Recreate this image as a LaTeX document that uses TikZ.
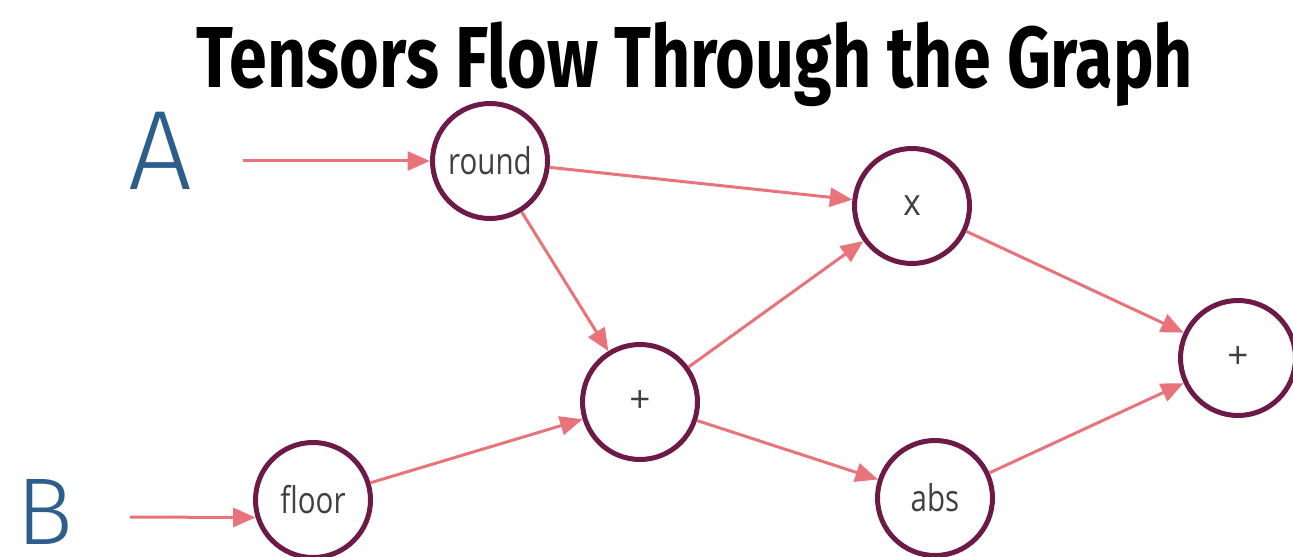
\documentclass[tikz,border=0pt]{standalone}
\usepackage{fontspec}
\usepackage{graphicx}
\setmainfont{Open Sans}
\newfontfamily\titlefont{Fira Sans}
\newfontfamily\labelfont{Open Sans}
\newfontfamily\handfont{Fira Sans Light}
\usetikzlibrary{arrows.meta}
\definecolor{ringcol}{HTML}{6E1A48}
\definecolor{flowcol}{HTML}{E8737A}
\definecolor{inkblue}{HTML}{2C5E8C}
\definecolor{textgray}{HTML}{404040}
\begin{document}
\begin{tikzpicture}[x=0.02cm,y=-0.02cm,
  opnode/.style={circle,draw=ringcol,line width=0.1cm,fill=white,
    minimum size=2.3cm,inner sep=0pt,font=\labelfont\fontsize{21}{21}\selectfont,
    text=textgray},
  flow/.style={draw=flowcol,line width=0.06cm,
    -{Triangle[length=0.45cm,width=0.38cm]}},
  inlabel/.style={text=inkblue,inner sep=0pt}]
\useasboundingbox (0,0) rectangle (1293,557);

% title
\node[inner sep=0pt,anchor=base] (title) at (695,88)
  {\resizebox{567pt}{37.4pt}{\titlefont\bfseries Tensors Flow Through the Graph}};

% operation nodes
\node[opnode] (round) at (490,161) {\scalebox{0.8}[1]{round}};
\node[opnode] (mul)   at (912,206) {\scalebox{0.9}[1]{x}};
\node[opnode] (add)   at (640,402) {+};
\node[opnode] (floor) at (313,500) {\scalebox{0.8}[1]{floor}};
\node[opnode] (abs)   at (935,498) {\scalebox{0.8}[1]{abs}};
\node[opnode] (sum)   at (1238,358) {+};

% inputs
\node[inlabel] (A) at (160,151) {\resizebox{!}{44pt}{\handfont A}};
\node[inlabel] (B) at (45,512) {\resizebox{!}{37pt}{\handfont B}};
\coordinate (astart) at (243,161);
\coordinate (bstart) at (130,517);

% connectors
\draw[flow] (astart) -- (round);
\draw[flow] (bstart) -- (floor.197);
\draw[flow] (round) -- (mul);
\draw[flow] (round) -- (add);
\draw[flow] (floor) -- (add);
\draw[flow] (add) -- (mul);
\draw[flow] (add) -- (abs);
\draw[flow] (mul) -- (sum);
\draw[flow] (abs) -- (sum);
\end{tikzpicture}
\end{document}
